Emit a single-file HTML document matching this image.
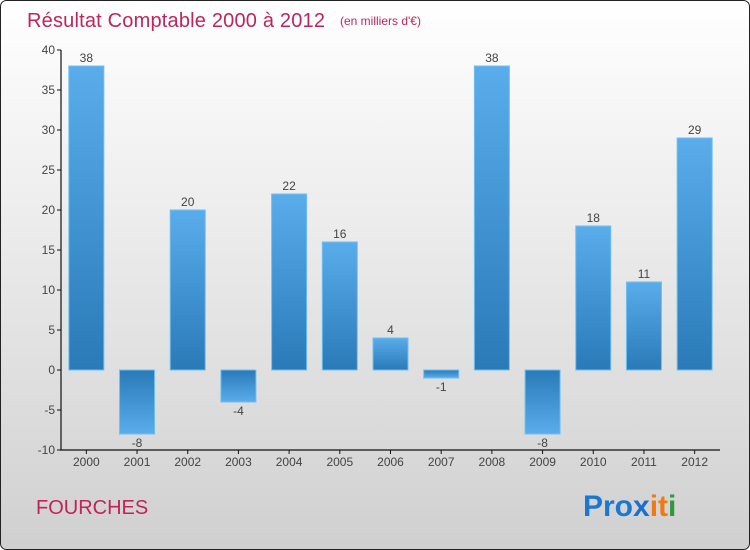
<!DOCTYPE html>
<html><head><meta charset="utf-8"><style>
body{margin:0;width:750px;height:550px;overflow:hidden;font-family:"Liberation Sans",sans-serif}
svg{display:block}
</style></head><body>
<svg id="c" width="750" height="550" xmlns="http://www.w3.org/2000/svg">
<defs>
<linearGradient id="bg" x1="0" y1="0" x2="0" y2="1"><stop offset="0" stop-color="#ffffff"/><stop offset="1" stop-color="#d0d0d0"/></linearGradient>
<linearGradient id="bp" x1="0" y1="0" x2="0" y2="1"><stop offset="0" stop-color="#5aaceb"/><stop offset="1" stop-color="#2a7ab8"/></linearGradient>
<linearGradient id="bn" x1="0" y1="0" x2="0" y2="1"><stop offset="0" stop-color="#2a7ab8"/><stop offset="1" stop-color="#5aaceb"/></linearGradient>
</defs>
<rect x="0.5" y="0.5" width="749" height="549" rx="6" fill="url(#bg)" stroke="#222"/>
<text x="27" y="27" font-size="20" fill="#c0245a" textLength="298">Résultat Comptable 2000 à 2012</text>
<text x="340" y="25" font-size="12" fill="#c0245a">(en milliers d'€)</text>
<g id="plot"></g>
<text x="36" y="514" font-size="20" fill="#c0245a">FOURCHES</text>
<g font-size="30" font-weight="bold" font-family="Liberation Sans, sans-serif">
<text x="583" y="516"><tspan fill="#1a78d0">Pro</tspan><tspan fill="#1a6fd0">x</tspan><tspan fill="#f07a10">it</tspan><tspan fill="#2a9a3a">i</tspan></text>
</g>
</svg>
<script>
const categories=["2000","2001","2002","2003","2004","2005","2006","2007","2008","2009","2010","2011","2012"];
const values=[38,-8,20,-4,22,16,4,-1,38,-8,18,11,29];
const yTicks=[-10,-5,0,5,10,15,20,25,30,35,40];
const NS="http://www.w3.org/2000/svg";
const g=document.getElementById('plot');
const x0=61,x1=720,yTop=50,yBot=450,vMin=-10,vMax=40;
const step=(x1-x0)/categories.length;
function y(v){return yBot-(v-vMin)*(yBot-yTop)/(vMax-vMin);}
function xc(i){return x0+step*(i+0.5);}
function mk(t,a){const e=document.createElementNS(NS,t);for(const k in a)e.setAttribute(k,a[k]);g.appendChild(e);return e;}
let ax=mk('path',{d:`M${x0} ${yTop}V${yBot}H${x1}`,stroke:'#111',fill:'none','stroke-width':1.2});


yTicks.forEach(t=>{
 let l=mk('line',{x1:x0-4,x2:x0,y1:y(t),y2:y(t),stroke:'#111'});
 
 
 let tx=mk('text',{x:x0-6,y:y(t)+4,'text-anchor':'end','font-size':12,fill:'#444'});
 tx.textContent=t;
 
 
});
categories.forEach((c,i)=>{
 const v=values[i],cx=xc(i),w=35;
 let l=mk('line',{x1:cx,x2:cx,y1:yBot,y2:yBot+4,stroke:'#111'});
 
 
 let tx=mk('text',{x:cx,y:yBot+16,'text-anchor':'middle','font-size':12,fill:'#444'});
 tx.textContent=c;
 
 
 const top=Math.min(y(v),y(0)),h=Math.abs(y(v)-y(0));
 let r=mk('rect',{x:cx-w/2,y:top,width:w,height:h,fill:v>=0?'url(#bp)':'url(#bn)',stroke:'#6cc0f5','stroke-width':1});
 
 
 let lb=mk('text',{x:cx,y:v>=0?y(v)-4:y(v)+13,'text-anchor':'middle','font-size':12,fill:'#444'});
 lb.textContent=v;
 
 
});
</script>
</body></html>
